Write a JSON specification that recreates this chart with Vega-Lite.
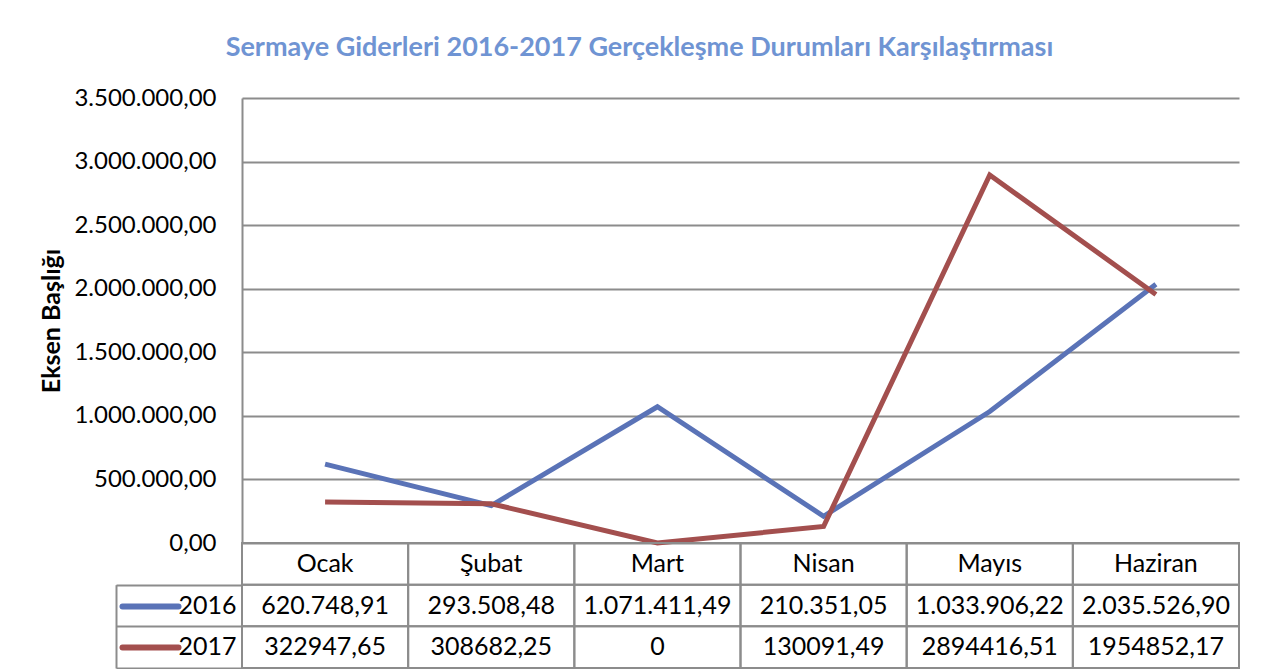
{
  "$schema": "https://vega.github.io/schema/vega-lite/v6.json",
  "background": "white",
  "padding": {"left": 38, "top": 34, "right": 5, "bottom": 0},
  "config": {
    "locale": {"number": {"decimal": ",", "thousands": ".", "grouping": [3], "currency": ["", ""]}},
    "font": "Lato",
    "view": {"stroke": null},
    "concat": {"spacing": 0}
  },
  "title": {
    "text": "Sermaye Giderleri 2016-2017 Gerçekleşme Durumları Karşılaştırması",
    "font": "Lato", "fontSize": 27, "fontWeight": "bold", "color": "#6F94D3",
    "anchor": "middle", "frame": "bounds", "offset": 24
  },
  "datasets": {
    "gider": [
      {"month": "Ocak", "year": "2016", "value": 620748.91},
      {"month": "Şubat", "year": "2016", "value": 293508.48},
      {"month": "Mart", "year": "2016", "value": 1071411.49},
      {"month": "Nisan", "year": "2016", "value": 210351.05},
      {"month": "Mayıs", "year": "2016", "value": 1033906.22},
      {"month": "Haziran", "year": "2016", "value": 2035526.90},
      {"month": "Ocak", "year": "2017", "value": 322947.65},
      {"month": "Şubat", "year": "2017", "value": 308682.25},
      {"month": "Mart", "year": "2017", "value": 0},
      {"month": "Nisan", "year": "2017", "value": 130091.49},
      {"month": "Mayıs", "year": "2017", "value": 2894416.51},
      {"month": "Haziran", "year": "2017", "value": 1954852.17}
    ]
  },
  "spacing": 0,
  "bounds": "flush",
  "vconcat": [
    {
      "width": 997,
      "height": 445,
      "data": {"name": "gider"},
      "mark": {"type": "line", "strokeWidth": 5},
      "encoding": {
        "x": {"field": "month", "type": "ordinal", "scale": {"type": "point", "domain": ["Ocak", "Şubat", "Mart", "Nisan", "Mayıs", "Haziran"], "padding": 0.5}, "axis": null},
        "y": {
          "field": "value", "type": "quantitative",
          "scale": {"domain": [0, 3500000], "nice": false, "zero": true},
          "axis": {
            "values": [0, 500000, 1000000, 1500000, 2000000, 2500000, 3000000, 3500000],
            "format": ",.2f",
            "title": "Eksen Başlığı", "titleFont": "Lato", "titleFontSize": 25, "titleFontWeight": "bold", "titleColor": "black",
            "titleX": -178,
            "labelFont": "Lato", "labelFontSize": 24, "labelColor": "black", "labelPadding": 26,
            "ticks": false, "tickSize": 0,
            "domainColor": "#8C8C8C", "domainWidth": 2,
            "grid": true, "gridColor": "#8C8C8C", "gridWidth": 2
          }
        },
        "color": {"field": "year", "type": "nominal", "scale": {"domain": ["2016", "2017"], "range": ["#5A73B7", "#A34F4E"]}, "legend": null}
      }
    },
    {
      "width": 997,
      "height": 125,
      "data": {"name": "gider"},
      "resolve": {"scale": {"y": "independent"}, "axis": {"y": "independent"}},
      "encoding": {
        "x": {"field": "month", "type": "nominal", "scale": {"type": "band", "domain": ["Ocak", "Şubat", "Mart", "Nisan", "Mayıs", "Haziran"], "paddingInner": 0, "paddingOuter": 0}, "axis": null}
      },
      "layer": [
        {
          "layer": [
            {
              "mark": {"type": "rect", "fill": "transparent", "stroke": "#8C8C8C", "strokeWidth": 2},
              "encoding": {
                "y": {"field": "year", "type": "nominal", "scale": {"domain": ["header", "2016", "2017"], "paddingInner": 0, "paddingOuter": 0},
                  "axis": {"orient": "left", "title": null, "labelExpr": "datum.value == 'header' ? '' : datum.value", "labelFont": "Lato", "labelFontSize": 25, "labelColor": "black", "labelPadding": 6, "ticks": false, "tickSize": 0, "domain": false, "grid": false}}
              }
            },
            {
              "transform": [{"filter": "datum.year == '2016'"}],
              "mark": {"type": "rect", "fill": "transparent", "stroke": "#8C8C8C", "strokeWidth": 2},
              "encoding": {
                "y": {"datum": "header", "type": "nominal",
                  "axis": {"orient": "left", "title": null, "labelExpr": "datum.value == 'header' ? '' : datum.value", "labelFont": "Lato", "labelFontSize": 25, "labelColor": "black", "labelPadding": 6, "ticks": false, "tickSize": 0, "domain": false, "grid": false}}
              }
            },
            {
              "mark": {"type": "text", "font": "Lato", "fontSize": 25, "color": "black", "baseline": "middle"},
              "encoding": {
                "y": {"field": "year", "type": "nominal",
                  "axis": {"orient": "left", "title": null, "labelExpr": "datum.value == 'header' ? '' : datum.value", "labelFont": "Lato", "labelFontSize": 25, "labelColor": "black", "labelPadding": 6, "ticks": false, "tickSize": 0, "domain": false, "grid": false}},
                "text": {
                  "condition": {"test": "datum.year == '2016'", "field": "value", "type": "quantitative", "format": ",.2f"},
                  "field": "value", "type": "quantitative", "format": ".2~f"
                }
              }
            },
            {
              "transform": [{"filter": "datum.year == '2016'"}],
              "mark": {"type": "text", "font": "Lato", "fontSize": 25, "color": "black", "baseline": "middle"},
              "encoding": {
                "y": {"datum": "header", "type": "nominal",
                  "axis": {"orient": "left", "title": null, "labelExpr": "datum.value == 'header' ? '' : datum.value", "labelFont": "Lato", "labelFontSize": 25, "labelColor": "black", "labelPadding": 6, "ticks": false, "tickSize": 0, "domain": false, "grid": false}},
                "text": {"field": "month", "type": "nominal"}
              }
            }
          ]
        },
        {
          "transform": [{"filter": "datum.month == 'Ocak'"}],
          "mark": {"type": "point", "opacity": 0},
          "encoding": {
            "y": {"field": "year", "type": "nominal", "scale": {"domain": ["header", "2016", "2017"], "paddingInner": 0, "paddingOuter": 0},
              "axis": {"orient": "left", "offset": 0, "title": null, "labels": false, "domain": false, "grid": false, "ticks": true, "tickOffset": 20.83, "tickSize": 126, "tickWidth": 2, "tickColor": "#8C8C8C"}}
          }
        },
        {
          "transform": [{"filter": "datum.month == 'Ocak'"}],
          "mark": {"type": "point", "opacity": 0},
          "encoding": {
            "y": {"field": "year", "type": "nominal", "scale": {"domain": ["header", "2016", "2017"], "paddingInner": 0, "paddingOuter": 0},
              "axis": {"orient": "left", "offset": 126, "title": null, "labels": false, "ticks": false, "grid": false, "domain": true, "domainColor": "#8C8C8C", "domainWidth": 2, "domainDash": [83.33, 41.67], "domainDashOffset": 83.33}}
          }
        },
        {
          "transform": [{"filter": "datum.month == 'Ocak'"}],
          "mark": {"type": "point", "opacity": 0},
          "encoding": {
            "y": {"field": "year", "type": "nominal", "scale": {"domain": ["header", "2016", "2017"], "paddingInner": 0, "paddingOuter": 0},
              "axis": {"orient": "left", "offset": 64, "title": null, "labels": false, "domain": false, "grid": false, "ticks": true, "tickSize": 56, "tickWidth": 6, "tickCap": "round",
                "tickColor": {"condition": {"test": "datum.value == '2016'", "value": "#5A73B7"}, "value": "transparent"}}}
          }
        },
        {
          "transform": [{"filter": "datum.month == 'Ocak'"}],
          "mark": {"type": "point", "opacity": 0},
          "encoding": {
            "y": {"field": "year", "type": "nominal", "scale": {"domain": ["header", "2016", "2017"], "paddingInner": 0, "paddingOuter": 0},
              "axis": {"orient": "left", "offset": 64, "title": null, "labels": false, "domain": false, "grid": false, "ticks": true, "tickSize": 56, "tickWidth": 6, "tickCap": "round",
                "tickColor": {"condition": {"test": "datum.value == '2017'", "value": "#A34F4E"}, "value": "transparent"}}}
          }
        }
      ]
    }
  ]
}
